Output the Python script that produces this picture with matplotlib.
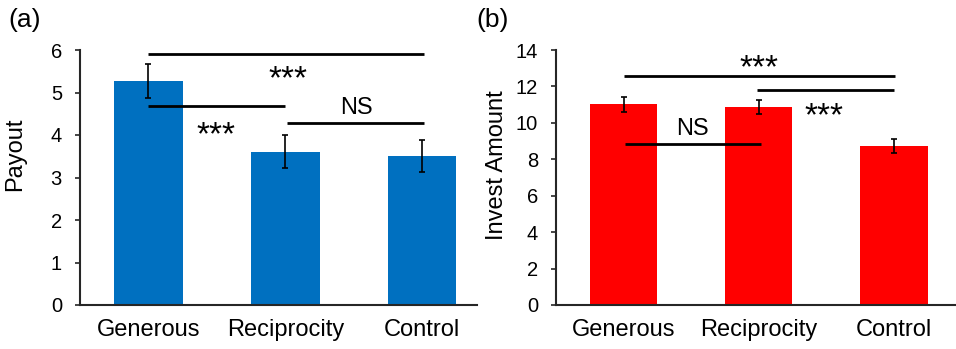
import numpy as np
import matplotlib.pyplot as plt

plt.rcParams['font.family'] = ['Liberation Sans', 'DejaVu Sans']

# ─── Data ─────────────────────────────────────────────────────────────────────
categories = ['Generous', 'Reciprocity', 'Control']
payout     = [5.27, 3.61, 3.51]
payout_err = [0.40, 0.39, 0.38]
invest     = [11.02, 10.88, 8.73]
invest_err = [0.40, 0.40, 0.40]

BLUE = '#0070C0'
RED  = '#FF0000'
AXC  = '#262626'


def style_axes(ax, ymax, ystep):
    ax.spines['top'].set_visible(False)
    ax.spines['right'].set_visible(False)
    for s in ('left', 'bottom'):
        ax.spines[s].set_color(AXC)
        ax.spines[s].set_linewidth(1.5)
    ax.set_ylim(0, ymax)
    ax.set_yticks(np.arange(0, ymax + 0.1, ystep))
    ax.tick_params(axis='y', direction='out', length=3.6, width=1.2,
                   color=AXC, labelsize=14.5, pad=9.4)
    ax.tick_params(axis='x', length=0, labelsize=17, pad=10)
    ax.set_xticks(range(len(categories)))
    ax.set_xticklabels(categories)


def bracket(ax, x0, x1, y):
    ax.plot([x0, x1], [y, y], color='black', lw=2.0, solid_capstyle='butt')


fig = plt.figure(figsize=(9.56, 3.49), dpi=100)

# ─── (a) Payout ───────────────────────────────────────────────────────────────
ax1 = fig.add_axes([80 / 956, 44 / 349, 397 / 956, 255 / 349])
x = np.arange(len(categories))
ax1.bar(x, payout, width=0.5, color=BLUE, yerr=payout_err,
        error_kw=dict(ecolor='black', elinewidth=1.2, capsize=2.2, capthick=1.2))
ax1.set_xlim(-0.5, 2.40)
style_axes(ax1, 6, 1)
ax1.set_ylabel('Payout', fontsize=17)
ax1.yaxis.set_label_coords(-0.136, 0.59)

bracket(ax1, 0.0, 2.01, 5.90)
bracket(ax1, 0.0, 1.0, 4.68)
bracket(ax1, 1.01, 2.01, 4.28)
ax1.text(1.02, 5.10, '***', fontsize=24, ha='center', va='baseline')
ax1.text(0.49, 3.78, '***', fontsize=24, ha='center', va='baseline')
ax1.text(1.52, 4.49, 'NS', fontsize=17, ha='center', va='baseline')

# ─── (b) Invest Amount ────────────────────────────────────────────────────────
ax2 = fig.add_axes([556 / 956, 44 / 349, 400 / 956, 255 / 349])
ax2.bar(x, invest, width=0.5, color=RED, yerr=invest_err,
        error_kw=dict(ecolor='black', elinewidth=1.2, capsize=2.2, capthick=1.2))
ax2.set_xlim(-0.5, 2.46)
style_axes(ax2, 14, 2)
ax2.set_ylabel('Invest Amount', fontsize=17)
ax2.yaxis.set_label_coords(-0.12, 0.55)

bracket(ax2, 0.0, 2.01, 12.56)
bracket(ax2, 0.99, 2.0, 11.80)
bracket(ax2, 0.01, 1.02, 8.84)
ax2.text(1.0, 12.50, '***', fontsize=24, ha='center', va='baseline')
ax2.text(1.48, 9.88, '***', fontsize=24, ha='center', va='baseline')
ax2.text(0.51, 9.34, 'NS', fontsize=17, ha='center', va='baseline')

fig.text(8 / 956, 1 - 20 / 349, '(a)', fontsize=19, ha='left', va='center')
fig.text(476 / 956, 1 - 20 / 349, '(b)', fontsize=19, ha='left', va='center')

fig.savefig('out.png', dpi=100)
